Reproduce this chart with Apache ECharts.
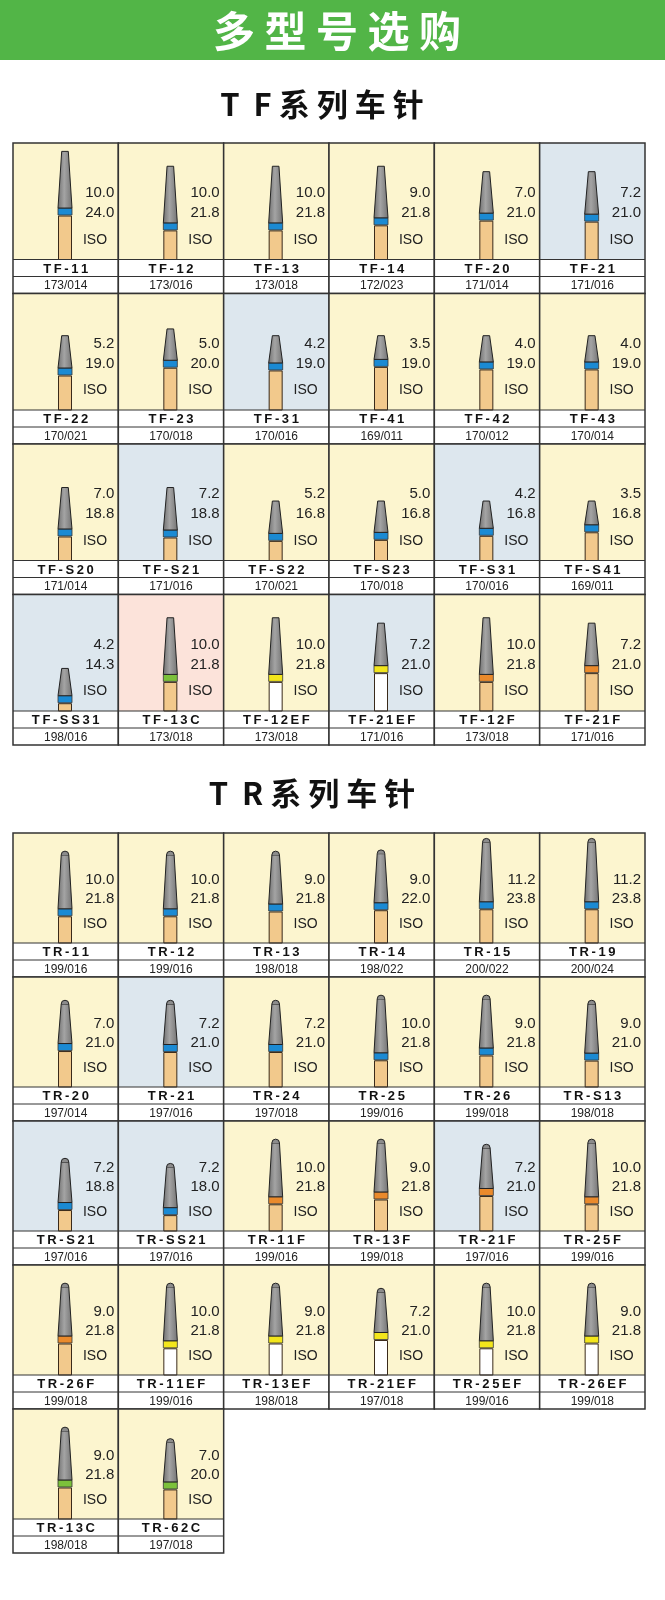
<!DOCTYPE html>
<html><head><meta charset="utf-8">
<script src="https://cdn.jsdelivr.net/npm/echarts@6/dist/echarts.min.js"></script>
<style>html,body{margin:0;padding:0;background:#fff}#c{width:665px;height:1600px}</style>
</head><body><div id="c"></div>
<script>
// ---- TF series ----
var tfNames = ['TF-11','TF-12','TF-13','TF-14','TF-20','TF-21','TF-22','TF-23','TF-31','TF-41','TF-42','TF-43','TF-S20','TF-S21','TF-S22','TF-S23','TF-S31','TF-S41','TF-SS31','TF-13C','TF-12EF','TF-21EF','TF-12F','TF-21F'];
var tfCodes = ['173/014','173/016','173/018','172/023','171/014','171/016','170/021','170/018','170/016','169/011','170/012','170/014','171/014','171/016','170/021','170/018','170/016','169/011','198/016','173/018','173/018','171/016','173/018','171/016'];
var tfHead = [10.0,10.0,10.0,9.0,7.0,7.2,5.2,5.0,4.2,3.5,4.0,4.0,7.0,7.2,5.2,5.0,4.2,3.5,4.2,10.0,10.0,7.2,10.0,7.2];
var tfTotal = [24.0,21.8,21.8,21.8,21.0,21.0,19.0,20.0,19.0,19.0,19.0,19.0,18.8,18.8,16.8,16.8,16.8,16.8,14.3,21.8,21.8,21.0,21.8,21.0];
var tfBg = ['y','y','y','y','y','b','y','y','b','y','y','y','y','b','y','y','b','y','b','p','y','b','y','y'];
var tfBand = ['blue','blue','blue','blue','blue','blue','blue','blue','blue','blue','blue','blue','blue','blue','blue','blue','blue','blue','blue','green','yellow','yellow','orange','orange'];
var tfShank = ['gold','gold','gold','gold','gold','gold','gold','gold','gold','gold','gold','gold','gold','gold','gold','gold','gold','gold','gold','gold','white','white','gold','gold'];
// ---- TR series ----
var trNames = ['TR-11','TR-12','TR-13','TR-14','TR-15','TR-19','TR-20','TR-21','TR-24','TR-25','TR-26','TR-S13','TR-S21','TR-SS21','TR-11F','TR-13F','TR-21F','TR-25F','TR-26F','TR-11EF','TR-13EF','TR-21EF','TR-25EF','TR-26EF','TR-13C','TR-62C'];
var trCodes = ['199/016','199/016','198/018','198/022','200/022','200/024','197/014','197/016','197/018','199/016','199/018','198/018','197/016','197/016','199/016','199/018','197/016','199/016','199/018','199/016','198/018','197/018','199/016','199/018','198/018','197/018'];
var trHead = [10.0,10.0,9.0,9.0,11.2,11.2,7.0,7.2,7.2,10.0,9.0,9.0,7.2,7.2,10.0,9.0,7.2,10.0,9.0,10.0,9.0,7.2,10.0,9.0,9.0,7.0];
var trTotal = [21.8,21.8,21.8,22.0,23.8,23.8,21.0,21.0,21.0,21.8,21.8,21.0,18.8,18.0,21.8,21.8,21.0,21.8,21.8,21.8,21.8,21.0,21.8,21.8,21.8,20.0];
var trBg = ['y','y','y','y','y','y','y','b','y','y','y','y','b','b','y','y','b','y','y','y','y','y','y','y','y','y'];
var trBand = ['blue','blue','blue','blue','blue','blue','blue','blue','blue','blue','blue','blue','blue','blue','orange','orange','orange','orange','orange','yellow','yellow','yellow','yellow','yellow','green','green'];
var trShank = ['gold','gold','gold','gold','gold','gold','gold','gold','gold','gold','gold','gold','gold','gold','gold','gold','gold','gold','gold','white','white','white','white','white','gold','gold'];

var BG = {y:'#fcf5cf', b:'#dde7ee', p:'#fce3da'};
var BAND = {blue:'#1b8ad3', green:'#7cc13b', yellow:'#f3e61c', orange:'#ea8a2c'};
var SHANK = {gold:'#f2c98c', white:'#ffffff'};
var COLS = 6;

function makeRender(S, round){
  return function(params, api){
    var i = api.value(2);
    var c = api.value(0), r = api.value(1);
    var p0 = api.coord([c, r]), p1 = api.coord([c+1, r+1]);
    var x0=p0[0], y0=p0[1], w=p1[0]-p0[0], h=p1[1]-p0[1];
    var rowH = 17;
    var imgB = y0 + h - 2*rowH;
    var imgH = imgB - y0;
    var k = imgH*0.058;
    var totalPx = (S.total[i]-8)*k;
    var headPx = 5.0*S.head[i]*imgH/115 + 6;
    var bandPx = 7;
    var cx = x0 + 52;
    var topY = imgB - totalPx;
    var headB = topY + headPx;
    var ch = [];
    ch.push({type:'rect', shape:{x:x0,y:y0,width:w,height:imgH}, style:{fill:BG[S.bg[i]]}});
    ch.push({type:'rect', shape:{x:x0,y:imgB,width:w,height:2*rowH}, style:{fill:'#fff'}});
    ch.push({type:'rect', shape:{x:cx-6.5,y:headB+bandPx+1,width:13,height:imgB-(headB+bandPx+1)}, style:{fill:SHANK[S.shank[i]], stroke:'#3a2a1a', lineWidth:1}});
    ch.push({type:'rect', shape:{x:cx-7,y:headB,width:14,height:bandPx}, style:{fill:BAND[S.band[i]], stroke:'#333', lineWidth:0.8}});
    var tw = round ? 3.8 : 3.3;
    ch.push({type:'polygon', shape:{points:[[cx-tw,topY],[cx+tw,topY],[cx+7,headB],[cx-7,headB]]},
      style:{fill:new echarts.graphic.LinearGradient(0,0,1,0,[{offset:0,color:'#6f6f6f'},{offset:0.45,color:'#a4a4a4'},{offset:1,color:'#727272'}]), stroke:'#222', lineWidth:1}});
    if(round){
      ch.push({type:'arc', shape:{cx:cx,cy:topY,r:tw,startAngle:Math.PI,endAngle:2*Math.PI}, style:{fill:'#8c8c8c',stroke:'#222',lineWidth:1}});
    }
    var nf = '15px "Liberation Sans", Arial';
    ch.push({type:'text', style:{text:S.head[i].toFixed(1), x:x0+w-4, y:y0+imgH*0.43, align:'right', verticalAlign:'middle', font:nf, fill:'#222'}});
    ch.push({type:'text', style:{text:S.total[i].toFixed(1), x:x0+w-4, y:y0+imgH*0.6, align:'right', verticalAlign:'middle', font:nf, fill:'#222'}});
    ch.push({type:'text', style:{text:'ISO', x:x0+82, y:y0+imgH*0.83, align:'center', verticalAlign:'middle', font:'14px "Liberation Sans", Arial', fill:'#222'}});
    ch.push({type:'text', style:{text:S.names[i].split('').join('\u2009'), x:x0+w/2, y:imgB+rowH/2+1, align:'center', verticalAlign:'middle', font:'bold 13px "Liberation Sans", Arial', fill:'#111'}});
    ch.push({type:'text', style:{text:S.codes[i], x:x0+w/2, y:imgB+rowH*1.5+1, align:'center', verticalAlign:'middle', font:'12px "Liberation Sans", Arial', fill:'#222'}});
    ch.push({type:'line', shape:{x1:x0,y1:imgB,x2:x0+w,y2:imgB}, style:{stroke:'#333',lineWidth:1}});
    ch.push({type:'line', shape:{x1:x0,y1:imgB+rowH,x2:x0+w,y2:imgB+rowH}, style:{stroke:'#333',lineWidth:1}});
    ch.push({type:'rect', shape:{x:x0,y:y0,width:w,height:h}, style:{fill:'none',stroke:'#333',lineWidth:1.5}});
    return {type:'group', children:ch};
  };
}
function cells(n){ var d=[]; for(var i=0;i<n;i++) d.push([i%COLS, Math.floor(i/COLS), i]); return d; }

var TF = {names:tfNames,codes:tfCodes,head:tfHead,total:tfTotal,bg:tfBg,band:tfBand,shank:tfShank};
var TR = {names:trNames,codes:trCodes,head:trHead,total:trTotal,bg:trBg,band:trBand,shank:trShank};

var chart = echarts.init(document.getElementById('c'), null, {renderer:'canvas'});
var ax = function(g,max,inv){return {gridIndex:g,type:'value',min:0,max:max,inverse:!!inv,show:false};};
chart.setOption({
  animation:false,
  grid:[{left:13,top:143,width:632,height:602},{left:13,top:833,width:632,height:720}],
  xAxis:[ax(0,6),ax(1,6)],
  yAxis:[ax(0,4,true),ax(1,5,true)],
  graphic:[
    {type:'rect', shape:{x:0,y:0,width:665,height:60}, style:{fill:'#52b547'}},
    {type:'text', style:{text:'多 型 号 选 购', x:337, y:31, align:'center', verticalAlign:'middle', font:'bold 42px "Noto Sans CJK SC"', fill:'#fff'}},
    {type:'text', style:{text:'T  F 系 列 车 针', x:322, y:104, align:'center', verticalAlign:'middle', font:'bold 31px "Noto Sans CJK SC"', fill:'#111'}},
    {type:'text', style:{text:'T  R 系 列 车 针', x:312, y:793, align:'center', verticalAlign:'middle', font:'bold 31px "Noto Sans CJK SC"', fill:'#111'}}
  ],
  series:[
    {type:'custom', xAxisIndex:0, yAxisIndex:0, data:cells(tfNames.length), renderItem:makeRender(TF,false)},
    {type:'custom', xAxisIndex:1, yAxisIndex:1, data:cells(trNames.length), renderItem:makeRender(TR,true)}
  ]
});
</script></body></html>
